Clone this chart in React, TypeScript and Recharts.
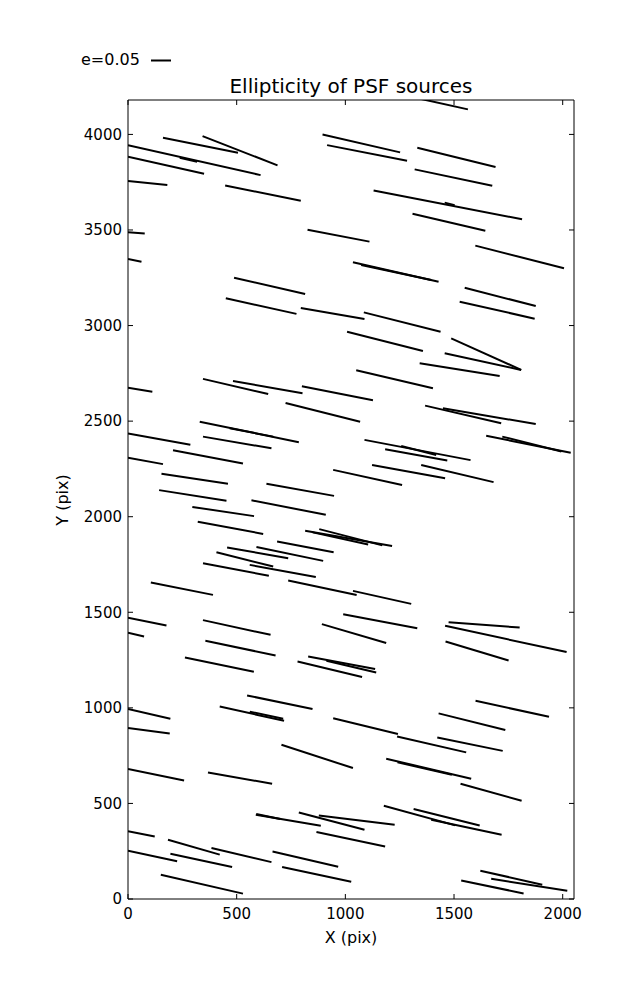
import React from 'react';
import { ScatterChart, Scatter, XAxis, YAxis, ReferenceLine, Customized } from 'recharts';

// each whisker: [xStart, yStart, xEnd, yEnd] in pixel units of the detector
type Seg = [number, number, number, number];

const xTicks = [0, 500, 1000, 1500, 2000];
const yTicks = [0, 500, 1000, 1500, 2000, 2500, 3000, 3500, 4000];

const rowTop: Seg[] = [
  [1330, 4190, 1564, 4131],
  [161, 3982, 506, 3904],
  [343, 3991, 688, 3838],
  [0, 3944, 610, 3787],
  [238, 3878, 318, 3857],
  [0, 3883, 350, 3794],
  [0, 3756, 181, 3735],
  [447, 3733, 795, 3653],
  [0, 3488, 77, 3482],
  [826, 3501, 1111, 3439],
  [895, 4000, 1252, 3906],
  [916, 3944, 1284, 3862],
  [1331, 3930, 1691, 3829],
  [1319, 3817, 1676, 3731],
  [1130, 3707, 1813, 3556],
  [1457, 3643, 1503, 3630],
  [1309, 3585, 1644, 3496],
  [1598, 3418, 2006, 3300],
  [0, 3348, 62, 3334],
  [488, 3250, 815, 3165],
  [450, 3143, 775, 3061],
  [795, 3092, 1088, 3034],
  [1035, 3331, 1429, 3229],
  [1073, 3317, 1395, 3238],
  [1549, 3198, 1876, 3102],
  [1526, 3125, 1871, 3036],
  [1085, 3069, 1438, 2968],
];

const rowUpper: Seg[] = [
  [1008, 2968, 1357, 2867],
  [0, 2675, 112, 2654],
  [345, 2721, 645, 2642],
  [483, 2710, 803, 2646],
  [800, 2683, 1127, 2609],
  [725, 2595, 1068, 2497],
  [1487, 2933, 1809, 2768],
  [1457, 2855, 1809, 2768],
  [1342, 2803, 1710, 2736],
  [1050, 2766, 1403, 2672],
  [1367, 2581, 1717, 2489],
  [1449, 2567, 1876, 2485],
];

const rowMiddle: Seg[] = [
  [0, 2436, 287, 2376],
  [330, 2497, 786, 2390],
  [468, 2463, 668, 2419],
  [345, 2419, 660, 2358],
  [0, 2309, 161, 2275],
  [207, 2348, 529, 2278],
  [154, 2225, 460, 2172],
  [143, 2139, 453, 2083],
  [637, 2172, 948, 2109],
  [568, 2086, 910, 2010],
  [296, 2051, 580, 2003],
  [944, 2245, 1261, 2166],
  [1088, 2402, 1576, 2296],
  [1257, 2370, 1418, 2323],
  [1183, 2353, 1469, 2294],
  [1123, 2271, 1459, 2201],
  [1349, 2271, 1682, 2181],
  [1648, 2423, 2037, 2335],
  [1722, 2419, 1994, 2341],
];

const rowLowerMid: Seg[] = [
  [321, 1974, 622, 1910],
  [815, 1926, 1215, 1847],
  [880, 1935, 1170, 1850],
  [850, 1918, 1105, 1855],
  [686, 1870, 946, 1814],
  [456, 1839, 737, 1783],
  [591, 1841, 898, 1769],
  [407, 1814, 668, 1739],
  [560, 1748, 864, 1684],
  [345, 1757, 648, 1691],
  [737, 1666, 1052, 1590],
  [1035, 1612, 1303, 1544],
  [105, 1656, 391, 1591],
  [0, 1472, 177, 1431],
  [0, 1393, 74, 1373],
  [345, 1459, 656, 1382],
  [356, 1351, 679, 1274],
  [262, 1263, 579, 1189],
  [990, 1490, 1331, 1417],
  [892, 1438, 1188, 1339],
  [829, 1269, 1137, 1203],
  [913, 1246, 1142, 1185],
  [780, 1242, 1077, 1161],
  [548, 1065, 849, 994],
  [422, 1007, 718, 932],
  [560, 980, 714, 943],
  [0, 994, 195, 943],
  [1475, 1448, 1802, 1420],
  [1459, 1429, 2018, 1292],
  [1461, 1347, 1751, 1248],
  [1599, 1037, 1937, 953],
];

const rowBottom: Seg[] = [
  [0, 894, 192, 866],
  [944, 946, 1242, 863],
  [1238, 850, 1556, 767],
  [1423, 845, 1724, 775],
  [1429, 971, 1736, 884],
  [706, 807, 1035, 685],
  [0, 680, 258, 620],
  [368, 662, 663, 603],
  [1188, 734, 1579, 629],
  [1240, 715, 1490, 650],
  [1530, 603, 1811, 514],
  [588, 441, 887, 383],
  [590, 445, 700, 418],
  [786, 453, 1088, 362],
  [878, 437, 1227, 389],
  [867, 350, 1183, 275],
  [0, 354, 123, 327],
  [184, 310, 422, 232],
  [384, 267, 660, 193],
  [0, 253, 226, 197],
  [195, 237, 479, 167],
  [665, 249, 967, 169],
  [709, 167, 1027, 90],
  [151, 127, 529, 28],
  [1177, 488, 1506, 385],
  [1314, 471, 1618, 385],
  [1395, 415, 1719, 336],
  [1621, 148, 1906, 75],
  [1671, 106, 2021, 43],
  [1533, 97, 1820, 29],
];

const segments: Seg[] = [...rowTop, ...rowUpper, ...rowMiddle, ...rowLowerMid, ...rowBottom];
const startPoints = segments.map(s => ({ x: s[0], y: s[1] }));

const FONT = 'DejaVu Sans, sans-serif';
const tickStyle = { fill: '#000', fontSize: 15, fontFamily: FONT };

const Annotations = () => (
  <g fontFamily={FONT} fill="#000">
    <text x={81} y={65} fontSize={16}>e=0.05</text>
    <line x1={151} y1={60.5} x2={171} y2={60.5} stroke="#000" strokeWidth={2} />
    <text x={351} y={93} fontSize={20} textAnchor="middle">Ellipticity of PSF sources</text>
    <text x={351} y={943} fontSize={16} textAnchor="middle">X (pix)</text>
    <text transform="translate(68,500) rotate(-90)" fontSize={16} textAnchor="middle">Y (pix)</text>
  </g>
);

const App = () => (
  <div style={{ position: 'absolute', left: 0, top: 0, width: 637, height: 1000, background: '#fff' }}>
    <ScatterChart width={637} height={1000} margin={{ top: 90, right: 53, bottom: 41, left: 0 }}>
      <XAxis
        type="number"
        dataKey="x"
        domain={[0, 2052]}
        ticks={xTicks}
        allowDataOverflow
        height={60}
        tickSize={-5}
        tickMargin={14}
        tick={tickStyle}
        axisLine={{ stroke: '#000' }}
        tickLine={{ stroke: '#000' }}
      />
      <XAxis
        xAxisId="t"
        orientation="top"
        type="number"
        dataKey="x"
        domain={[0, 2052]}
        ticks={xTicks}
        allowDataOverflow
        height={10}
        tickSize={-5}
        tickFormatter={() => ''}
        axisLine={{ stroke: '#000' }}
        tickLine={{ stroke: '#000' }}
      />
      <YAxis
        type="number"
        dataKey="y"
        domain={[0, 4180]}
        ticks={yTicks}
        allowDataOverflow
        width={128}
        tickSize={-5}
        tickMargin={11}
        tick={tickStyle}
        axisLine={{ stroke: '#000' }}
        tickLine={{ stroke: '#000' }}
      />
      <YAxis
        yAxisId="r"
        orientation="right"
        type="number"
        dataKey="y"
        domain={[0, 4180]}
        ticks={yTicks}
        allowDataOverflow
        width={10}
        tickSize={-5}
        tickFormatter={() => ''}
        axisLine={{ stroke: '#000' }}
        tickLine={{ stroke: '#000' }}
      />
      <Scatter data={startPoints} isAnimationActive={false} shape={() => <g />} />
      {segments.map((s, i) => (
        <ReferenceLine
          key={`seg-${i}`}
          segment={[{ x: s[0], y: s[1] }, { x: s[2], y: s[3] }]}
          stroke="#000"
          strokeWidth={2}
          ifOverflow="hidden"
        />
      ))}
      <Customized component={Annotations} />
    </ScatterChart>
  </div>
);

export default App;
